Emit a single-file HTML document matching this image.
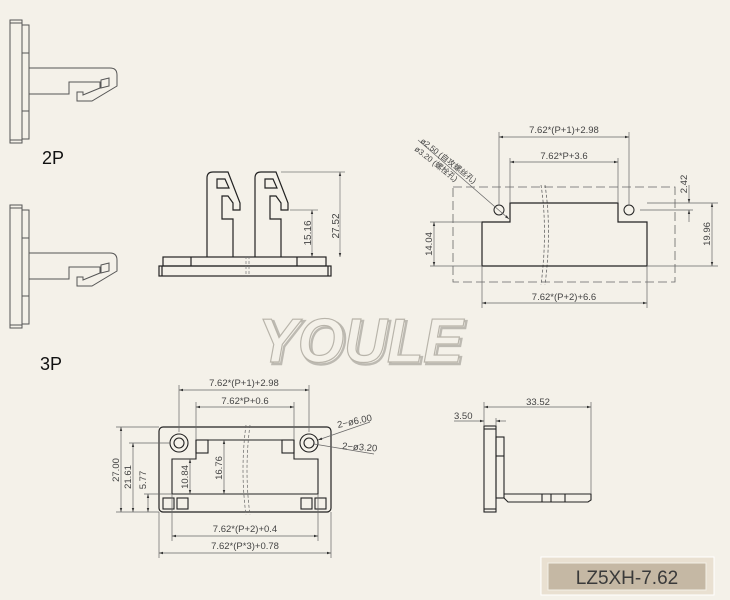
<!DOCTYPE html>
<html><head><meta charset="utf-8"><style>
html,body{margin:0;padding:0;background:#f4f1e9;}
svg{display:block}
text{font-family:"Liberation Sans","Noto Sans CJK SC",sans-serif;fill:#444}
</style></head><body>
<svg width="730" height="600" viewBox="0 0 730 600" xmlns="http://www.w3.org/2000/svg">
<rect width="730" height="600" fill="#f4f1e9"/>
<defs>
<marker id="a" viewBox="0 0 10 10" refX="10" refY="5" markerWidth="6" markerHeight="6" orient="auto-start-reverse"><path d="M0,2L10,5L0,8z" fill="#333"/></marker>
<g id="side" fill="none" stroke="#555" stroke-width="1">
<rect x="10" y="20" width="12" height="123"/>
<line x1="10" y1="23" x2="22" y2="23"/><line x1="10" y1="140" x2="22" y2="140"/>
<rect x="22" y="25" width="7" height="114"/>
<line x1="22" y1="53" x2="29" y2="53"/><line x1="22" y1="111" x2="29" y2="111"/>
<path d="M29,68 L110,68 Q117,68 117,75 L117,86 L92,101 L77,101 L77,92 L83,92 L83,95 L100,88 L100,82 L69,82 L69,94 L29,94"/>
<path d="M101,80 L109,78 L109,86 L101,88z"/>
</g>
</defs>
<use href="#side"/>
<use href="#side" y="185"/>
<text x="42" y="164" font-size="18" style="fill:#111">2P</text>
<text x="40" y="370" font-size="18" style="fill:#111">3P</text>

<!-- front view -->
<g fill="none" stroke="#222" stroke-width="1.2">
<rect x="163" y="257" width="163" height="9"/>
<line x1="191" y1="257" x2="191" y2="266"/><line x1="297" y1="257" x2="297" y2="266"/>
<rect x="159" y="266" width="172" height="10"/>
<line x1="162" y1="266" x2="162" y2="276"/><line x1="328" y1="266" x2="328" y2="276"/>
<path d="M207,257 L207,178 Q207,172 213,172 L228,172 L240,203 L240,210 L233,210 L233,203 L228,196 L222,196 L222,219 L233,219 L233,257"/>
<path d="M217,179 L225,179 L229,188 L217,188z"/>
<path d="M255,257 L255,178 Q255,172 261,172 L276,172 L288,203 L288,210 L281,210 L281,203 L276,196 L270,196 L270,219 L281,219 L281,257"/>
<path d="M265,179 L273,179 L277,188 L265,188z"/>
</g>
<g stroke="#777" stroke-width="0.7" fill="none">
<line x1="281" y1="172" x2="345" y2="172"/><line x1="290" y1="210" x2="318" y2="210"/>
<line x1="340" y1="172" x2="340" y2="257" marker-start="url(#a)" marker-end="url(#a)"/>
<line x1="312" y1="210" x2="312" y2="257" marker-start="url(#a)" marker-end="url(#a)"/>
<line x1="246" y1="256" x2="246" y2="277" stroke-dasharray="3,2"/><line x1="249" y1="256" x2="249" y2="277" stroke-dasharray="3,2"/>
</g>
<text font-size="10" transform="translate(339,226) rotate(-90)" text-anchor="middle">27.52</text>
<text font-size="10" transform="translate(311,233) rotate(-90)" text-anchor="middle">15.16</text>

<!-- YOULE watermark -->
<text x="260" y="364" font-size="62" font-style="italic" font-weight="bold" textLength="205" lengthAdjust="spacingAndGlyphs" style="fill:none;stroke:#9a968e;stroke-width:2.5;opacity:0.6">YOULE</text>
<text x="258" y="362" font-size="62" font-style="italic" font-weight="bold" textLength="205" lengthAdjust="spacingAndGlyphs" style="fill:#f4f1e9;stroke:#b8b4aa;stroke-width:1.2">YOULE</text>

<!-- top right view -->
<g fill="none" stroke="#666" stroke-width="0.8">
<rect x="453" y="187" width="222" height="95" stroke-dasharray="9,4"/>
<path d="M541,185 Q548,230 541,285 M545,185 Q552,230 545,285" stroke-dasharray="3,2"/>
</g>
<path d="M482,222 L510,222 L510,203 L618,203 L618,222 L647,222 L647,266 L482,266z" fill="none" stroke="#222" stroke-width="1.2"/>
<circle cx="499" cy="210" r="5" fill="none" stroke="#222"/>
<circle cx="629" cy="210" r="5" fill="none" stroke="#222"/>
<g stroke="#666" stroke-width="0.7" fill="none">
<line x1="499" y1="132" x2="499" y2="205"/><line x1="629" y1="132" x2="629" y2="205"/>
<line x1="510" y1="158" x2="510" y2="203"/><line x1="618" y1="158" x2="618" y2="203"/>
<line x1="482" y1="266" x2="482" y2="308"/><line x1="647" y1="266" x2="647" y2="308"/>
<line x1="499" y1="137" x2="629" y2="137" marker-start="url(#a)" marker-end="url(#a)"/>
<line x1="510" y1="162" x2="618" y2="162" marker-start="url(#a)" marker-end="url(#a)"/>
<line x1="482" y1="303" x2="647" y2="303" marker-start="url(#a)" marker-end="url(#a)"/>
<line x1="430" y1="222" x2="482" y2="222"/><line x1="430" y1="266" x2="482" y2="266"/>
<line x1="434" y1="222" x2="434" y2="266" marker-start="url(#a)" marker-end="url(#a)"/>
<line x1="647" y1="203" x2="718" y2="203"/><line x1="647" y1="266" x2="718" y2="266"/>
<line x1="712" y1="203" x2="712" y2="266" marker-start="url(#a)" marker-end="url(#a)"/>
<line x1="640" y1="210" x2="693" y2="210"/>
<line x1="689" y1="185" x2="689" y2="203" marker-end="url(#a)"/>
<line x1="689" y1="222" x2="689" y2="210" marker-end="url(#a)"/>
<line x1="418" y1="140" x2="509" y2="219" marker-end="url(#a)"/>
</g>
<text x="564" y="133" font-size="9.5" text-anchor="middle">7.62*(P+1)+2.98</text>
<text x="564" y="159" font-size="9.5" text-anchor="middle">7.62*P+3.6</text>
<text x="564" y="300" font-size="9.5" text-anchor="middle">7.62*(P+2)+6.6</text>
<text font-size="9.5" transform="translate(432,244) rotate(-90)" text-anchor="middle">14.04</text>
<text font-size="9.5" transform="translate(710,234) rotate(-90)" text-anchor="middle">19.96</text>
<text font-size="9.5" transform="translate(687,184) rotate(-90)" text-anchor="middle">2.42</text>
<text font-size="8" transform="translate(420,142) rotate(38)">ø2.50 (自攻螺丝孔)</text>
<text font-size="8" transform="translate(414,150) rotate(38)">ø3.20 (螺栓孔)</text>

<!-- bottom left view -->
<rect x="159" y="427" width="172" height="85" rx="4" fill="none" stroke="#222" stroke-width="1.2"/>
<g fill="none" stroke="#222" stroke-width="1.1">
<circle cx="179" cy="443" r="9"/><circle cx="179" cy="443" r="5"/>
<circle cx="309" cy="443" r="9"/><circle cx="309" cy="443" r="5"/>
<path d="M172,459 L196,459 L196,440 L294,440 L294,459 L318,459 L318,494 L172,494z"/>
<rect x="196" y="440" width="12" height="13"/><rect x="282" y="440" width="12" height="13"/>
<rect x="163" y="498" width="11" height="11"/><rect x="177" y="498" width="11" height="11"/>
<rect x="301" y="498" width="11" height="11"/><rect x="315" y="498" width="11" height="11"/>
</g>
<g stroke="#666" stroke-width="0.7" fill="none">
<path d="M246,425 Q240,470 246,515 M250,425 Q244,470 250,515" stroke-dasharray="3,2"/>
<line x1="179" y1="385" x2="179" y2="432"/><line x1="309" y1="385" x2="309" y2="432"/>
<line x1="196" y1="402" x2="196" y2="440"/><line x1="294" y1="402" x2="294" y2="440"/>
<line x1="179" y1="390" x2="309" y2="390" marker-start="url(#a)" marker-end="url(#a)"/>
<line x1="196" y1="407" x2="294" y2="407" marker-start="url(#a)" marker-end="url(#a)"/>
<line x1="172" y1="494" x2="172" y2="541"/><line x1="318" y1="494" x2="318" y2="541"/>
<line x1="159" y1="512" x2="159" y2="558"/><line x1="331" y1="512" x2="331" y2="558"/>
<line x1="172" y1="536" x2="318" y2="536" marker-start="url(#a)" marker-end="url(#a)"/>
<line x1="159" y1="553" x2="331" y2="553" marker-start="url(#a)" marker-end="url(#a)"/>
<line x1="116" y1="427" x2="159" y2="427"/><line x1="116" y1="512" x2="159" y2="512"/>
<line x1="129" y1="443" x2="170" y2="443"/><line x1="144" y1="494" x2="172" y2="494"/>
<line x1="121" y1="427" x2="121" y2="512" marker-start="url(#a)" marker-end="url(#a)"/>
<line x1="133" y1="443" x2="133" y2="512" marker-start="url(#a)" marker-end="url(#a)"/>
<line x1="148" y1="494" x2="148" y2="512" marker-start="url(#a)" marker-end="url(#a)"/>
<line x1="190" y1="459" x2="190" y2="494" marker-start="url(#a)" marker-end="url(#a)"/>
<line x1="224" y1="440" x2="224" y2="494" marker-start="url(#a)" marker-end="url(#a)"/>
<line x1="370" y1="422" x2="318" y2="440" marker-end="url(#a)"/>
<line x1="374" y1="454" x2="314" y2="444"/>
</g>
<text x="244" y="386" font-size="9.5" text-anchor="middle">7.62*(P+1)+2.98</text>
<text x="245" y="404" font-size="9.5" text-anchor="middle">7.62*P+0.6</text>
<text x="245" y="532" font-size="9.5" text-anchor="middle">7.62*(P+2)+0.4</text>
<text x="245" y="549" font-size="9.5" text-anchor="middle">7.62*(P*3)+0.78</text>
<text font-size="9.5" transform="translate(119,470) rotate(-90)" text-anchor="middle">27.00</text>
<text font-size="9.5" transform="translate(131,477) rotate(-90)" text-anchor="middle">21.61</text>
<text font-size="9.5" transform="translate(146,480) rotate(-90)" text-anchor="middle">5.77</text>
<text font-size="9.5" transform="translate(188,477) rotate(-90)" text-anchor="middle">10.84</text>
<text font-size="9.5" transform="translate(222,468) rotate(-90)" text-anchor="middle">16.76</text>
<text font-size="9.5" transform="translate(338,428) rotate(-12)">2−ø6.00</text>
<text font-size="9.5" transform="translate(342,449) rotate(4)">2−ø3.20</text>

<!-- bottom right side view -->
<g fill="none" stroke="#222" stroke-width="1.1">
<rect x="484" y="426" width="12" height="86"/>
<line x1="484" y1="429" x2="496" y2="429"/><line x1="484" y1="509" x2="496" y2="509"/>
<rect x="496" y="437" width="8" height="61"/>
<line x1="496" y1="456" x2="504" y2="456"/>
<path d="M504,494 L591,494 L591,500 L588,502 L508,502 L504,498"/>
<line x1="542" y1="494" x2="542" y2="502"/><line x1="551" y1="494" x2="551" y2="502"/><line x1="565" y1="494" x2="565" y2="502"/>
</g>
<g stroke="#666" stroke-width="0.7" fill="none">
<line x1="484" y1="402" x2="484" y2="426"/><line x1="591" y1="402" x2="591" y2="494"/>
<line x1="484" y1="407" x2="591" y2="407" marker-start="url(#a)" marker-end="url(#a)"/>
<line x1="454" y1="421" x2="484" y2="421" marker-end="url(#a)"/>
<line x1="506" y1="421" x2="496" y2="421" marker-end="url(#a)"/>
<line x1="496" y1="418" x2="496" y2="426"/>
</g>
<text x="538" y="405" font-size="9.5" text-anchor="middle">33.52</text>
<text x="454" y="419" font-size="9.5">3.50</text>

<!-- label -->
<rect x="541" y="557" width="173" height="38" fill="#e9e0d1" stroke="#fff" stroke-width="1"/>
<rect x="548" y="563" width="158" height="27" fill="#c5b8a4" stroke="#f4efe6" stroke-width="1"/>
<text x="627" y="584" font-size="19" text-anchor="middle" style="fill:#3a3a3a">LZ5XH-7.62</text>
</svg>
</body></html>
